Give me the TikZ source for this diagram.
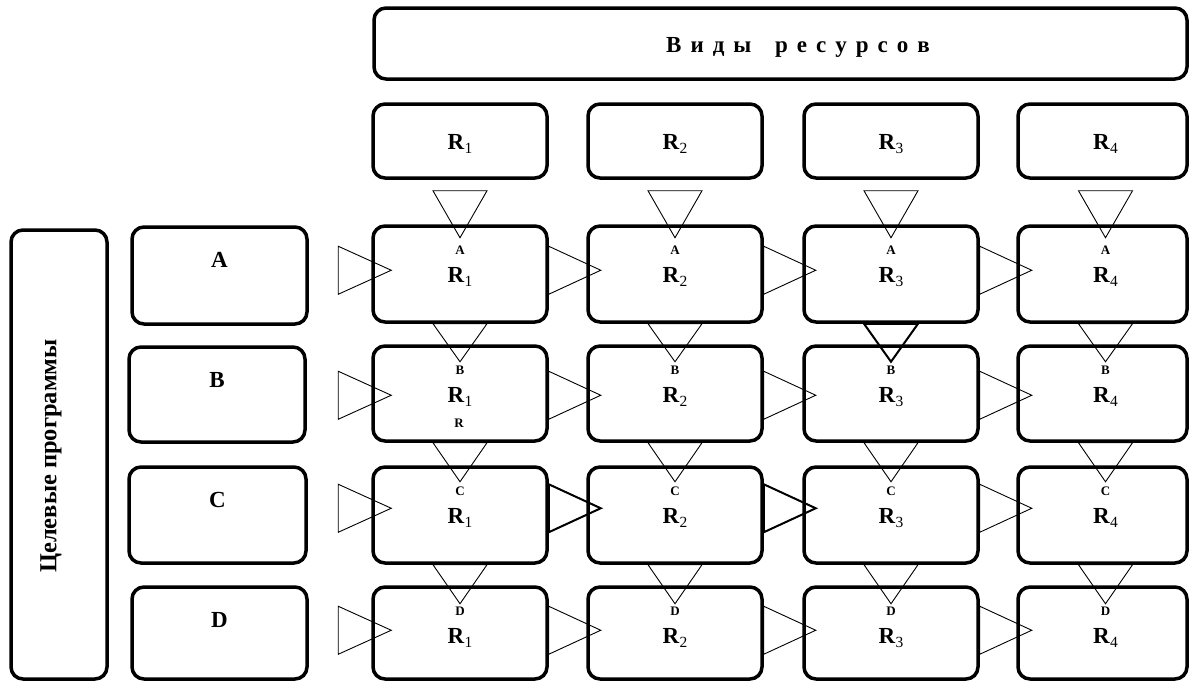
\documentclass[tikz,border=0pt]{standalone}
\usepackage{fontspec}
\setmainfont{Liberation Serif}
\usetikzlibrary{calc}
\pgfdeclarelayer{bg}
\pgfsetlayers{bg,main}
\newcommand\Rsub[1]{\textbf{R}\raisebox{-4pt}{\fontsize{15.5}{16}\selectfont\mdseries #1}}
\newcommand\lsp{\hspace{9pt}}
\tikzset{
 box/.style={draw, line width=3.5pt, rounded corners=12pt, inner sep=0pt},
 tri/.style={draw, line width=0.9pt, fill=white, line join=miter},
 trithick/.style={draw, line width=2pt, line join=miter},
 big/.style={font=\fontsize{23}{25}\selectfont\bfseries, inner sep=0pt},
 tiny/.style={font=\fontsize{13}{14}\selectfont\bfseries, inner sep=0pt},
}
\begin{document}
\begin{tikzpicture}[x=1pt,y=-1pt]
\useasboundingbox (0,0) rectangle (1189,681);
% header
\node[box, minimum width=813pt, minimum height=71pt] (hdr) at (780.5,43.5) {};
\node[big, anchor=base] (hdrtext) at (798,52) {В\lsp и\lsp д\lsp ы\lsp\ \lsp р\lsp е\lsp с\lsp у\lsp р\lsp с\lsp о\lsp в};
% programs
\node[box, minimum width=96pt, minimum height=449pt] (prog) at (59,454.5) {};
\node[big, font=\fontsize{24.5}{26}\selectfont\bfseries, rotate=90] (progtext) at (51,456) {Целевые программы};
\foreach \n/\xl/\xr/\yt/\yb in {A/132/307/227/324, B/129/305/347/442, C/129/306/467/563, D/132/307/587/679} {
  \node[box, minimum width={(\xr-\xl)*1pt}, minimum height={(\yb-\yt)*1pt}] (p-\n) at ({(\xl+\xr)/2},{(\yt+\yb)/2}) {};
  \node[big, anchor=base] (pt-\n) at ({(\xl+\xr)/2},{\yt+40}) {\n};
}
% resources and cells
\foreach \c/\xl/\xr/\off in {1/373/547/0, 2/588/762/0, 3/804/978/0, 4/1018/1187/3} {
  \node[box, minimum width={(\xr-\xl)*1pt}, minimum height=74pt] (h-\c) at ({(\xl+\xr)/2},141) {};
  \node[big, anchor=base] (ht-\c) at ({(\xl+\xr)/2+\off},149) {\Rsub{\c}};
  \foreach \rw/\L/\yt/\yb in {1/A/226/322, 2/B/346/441, 3/C/467/563, 4/D/587/679} {
    \node[box, minimum width={(\xr-\xl)*1pt}, minimum height={(\yb-\yt)*1pt}] (c-\rw-\c) at ({(\xl+\xr)/2},{(\yt+\yb)/2}) {};
    \node[tiny, anchor=base] (cl-\rw-\c) at ({(\xl+\xr)/2+\off},{\yt+28.5}) {\L};
    \node[big, anchor=base] (cr-\rw-\c) at ({(\xl+\xr)/2+\off},{\yt+56.5}) {\Rsub{\c}};
  }
}
\node[font=\fontsize{13}{14}\selectfont\bfseries, inner sep=0pt, anchor=base] (extraR) at (459,427) {R};
% triangles
\begin{pgfonlayer}{bg}
\foreach \c/\off in {1/0,2/0,3/0,4/3} {
  \draw[tri] ($(h-\c.south)+(\off-27,11)$) -- ($(h-\c.south)+(\off+27,11)$) -- ($(h-\c.south)+(\off,58)$) -- cycle;
  \foreach \rw/\dh in {2/38,3/39,4/39} {
    \pgfmathtruncatemacro\pr{\rw-1}
    \draw[tri] ($(c-\pr-\c.south)+(\off-27,0)$) -- ($(c-\pr-\c.south)+(\off+27,0)$) -- ($(c-\pr-\c.south)+(\off,\dh)$) -- cycle;
  }
}
\foreach \rw/\dy in {1/46,2/51,3/43,4/45} {
  \draw[tri] ($(c-\rw-1.north west)+(-33,\dy-24)$) -- ($(c-\rw-1.north west)+(-33,\dy+24)$) -- ($(c-\rw-1.north west)+(20,\dy)$) -- cycle;
  \foreach \c in {2,3,4} {
    \pgfmathtruncatemacro\pc{\c-1}
    \draw[tri] ($(c-\rw-\pc.north east)+(0,\dy-24)$) -- ($(c-\rw-\pc.north east)+(0,\dy+24)$) -- ($(c-\rw-\pc.north east)+(52,\dy)$) -- cycle;
  }
}
\draw[trithick] ($(c-1-3.south)+(-27,0)$) -- ($(c-1-3.south)+(27,0)$) -- ($(c-1-3.south)+(0,38)$) -- cycle;
\draw[trithick] ($(c-3-1.north east)+(0,19)$) -- ($(c-3-1.north east)+(0,67)$) -- ($(c-3-1.north east)+(52,43)$) -- cycle;
\draw[trithick] ($(c-3-2.north east)+(0,19)$) -- ($(c-3-2.north east)+(0,67)$) -- ($(c-3-2.north east)+(52,43)$) -- cycle;
\end{pgfonlayer}
\end{tikzpicture}
\end{document}
